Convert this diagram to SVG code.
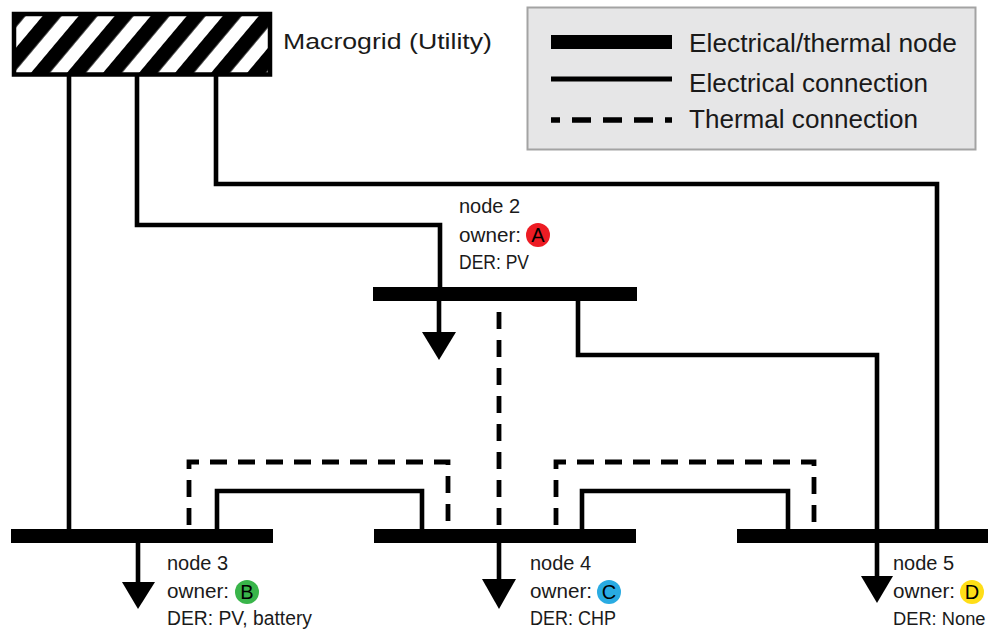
<svg xmlns="http://www.w3.org/2000/svg" width="988" height="630" viewBox="0 0 988 630">
<defs>
<pattern id="hatch" patternUnits="userSpaceOnUse" width="27.6" height="20" patternTransform="translate(20,0) rotate(40)">
<rect x="0" y="0" width="27.6" height="20" fill="#fff"/>
<rect x="0" y="0" width="14.5" height="20" fill="#000"/>
</pattern>
<style>
.bus{fill:#000}
.el{fill:none;stroke:#000;stroke-width:4.6}
.th{fill:none;stroke:#000;stroke-width:4.8;stroke-dasharray:17 11}
.lbl{font-family:"Liberation Sans",Arial,sans-serif;font-size:20px;fill:#1a1a1a}
.ltr{font-family:"Liberation Sans",Arial,sans-serif;font-size:20px;fill:#000}
.leg{font-family:"Liberation Sans",Arial,sans-serif;font-size:25px;fill:#1a1a1a}
.arr{fill:#000}
</style>
</defs>
<rect width="988" height="630" fill="#fff"/>

<g id="legend">
<rect x="527.5" y="7.5" width="448" height="142" fill="#e6e6e7" stroke="#a3a3a3" stroke-width="2"/>
<rect x="551" y="35" width="121" height="14" fill="#000"/>
<line x1="551" y1="79" x2="672" y2="79" stroke="#000" stroke-width="5"/>
<line x1="551" y1="120" x2="672" y2="120" stroke="#000" stroke-width="5.5" stroke-dasharray="9 12 19 12 19 12 19 12 9"/>
<text class="leg" x="689" y="52" textLength="268" lengthAdjust="spacingAndGlyphs">Electrical/thermal node</text>
<text class="leg" x="689" y="92" textLength="239" lengthAdjust="spacingAndGlyphs">Electrical connection</text>
<text class="leg" x="689" y="128" textLength="229" lengthAdjust="spacingAndGlyphs">Thermal connection</text>
</g>

<g id="connectors">
<line class="el" x1="69" y1="76" x2="69" y2="530"/>
<polyline class="el" points="137,76 137,225 440,225 440,290"/>
<polyline class="el" points="216,76 216,184 937,184 937,530"/>
<polyline class="el" points="578,299 578,355 877,355 877,530"/>
<line class="th" x1="499" y1="301" x2="499" y2="529" stroke-dashoffset="-11"/>
<polyline class="el" points="217,531 217,491 422,491 422,531"/>
<polyline class="th" points="189,529 189,462 448,462 448,529" stroke-dashoffset="-4"/>
<polyline class="el" points="582,531 582,491 788,491 788,531"/>
<polyline class="th" points="556,529 556,462 814,462 814,529" stroke-dashoffset="-4"/>
</g>

<g id="macrogrid">
<rect x="14" y="14" width="256" height="60.5" fill="url(#hatch)" stroke="#000" stroke-width="4.5"/>
<text class="leg" x="283" y="49" style="font-size:22px" textLength="209" lengthAdjust="spacingAndGlyphs">Macrogrid (Utility)</text>
</g>

<g id="node2">
<rect class="bus" x="373" y="287" width="264" height="14"/>
<line class="el" x1="439" y1="300" x2="439" y2="334"/>
<polygon class="arr" points="422,332 456,332 439,360"/>
<text class="lbl" x="459" y="213">node 2</text>
<text class="lbl" x="459" y="242" textLength="62" lengthAdjust="spacingAndGlyphs">owner:</text>
<circle cx="538" cy="235" r="12" fill="#ed1c24"/>
<text class="ltr" x="538" y="242" text-anchor="middle">A</text>
<text class="lbl" x="459" y="269" textLength="70" lengthAdjust="spacingAndGlyphs">DER: PV</text>
</g>

<g id="node3">
<rect class="bus" x="11" y="529" width="262" height="14"/>
<line class="el" x1="138" y1="542" x2="138" y2="584"/>
<polygon class="arr" points="122,582 155,582 138,609"/>
<text class="lbl" x="167" y="570">node 3</text>
<text class="lbl" x="167" y="598" textLength="62" lengthAdjust="spacingAndGlyphs">owner:</text>
<circle cx="247" cy="592" r="12" fill="#39b54a"/>
<text class="ltr" x="247" y="599" text-anchor="middle">B</text>
<text class="lbl" x="167" y="625" textLength="145" lengthAdjust="spacingAndGlyphs">DER: PV, battery</text>
</g>

<g id="node4">
<rect class="bus" x="374" y="529" width="262" height="14"/>
<line class="el" x1="499" y1="542" x2="499" y2="581"/>
<polygon class="arr" points="482,579 516,579 499,609"/>
<text class="lbl" x="530" y="570">node 4</text>
<text class="lbl" x="530" y="598" textLength="62" lengthAdjust="spacingAndGlyphs">owner:</text>
<circle cx="609" cy="592" r="12" fill="#29abe2"/>
<text class="ltr" x="609" y="599" text-anchor="middle">C</text>
<text class="lbl" x="530" y="625" textLength="86" lengthAdjust="spacingAndGlyphs">DER: CHP</text>
</g>

<g id="node5">
<rect class="bus" x="737" y="529" width="251" height="14"/>
<line class="el" x1="877" y1="542" x2="877" y2="578"/>
<polygon class="arr" points="861,576 893,576 877,603"/>
<text class="lbl" x="893" y="570">node 5</text>
<text class="lbl" x="893" y="598" textLength="62" lengthAdjust="spacingAndGlyphs">owner:</text>
<circle cx="972" cy="592" r="12" fill="#ffde17"/>
<text class="ltr" x="972" y="599" text-anchor="middle">D</text>
<text class="lbl" x="893" y="625" style="font-size:18.3px">DER: None</text>
</g>
</svg>
